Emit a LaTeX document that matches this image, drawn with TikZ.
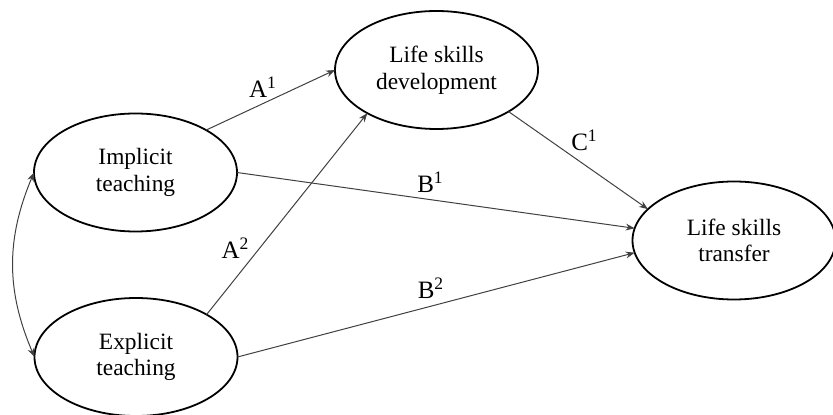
\documentclass[tikz,border=0pt]{standalone}
\usepackage{fontspec}
\setmainfont{Liberation Serif}
\usetikzlibrary{shapes.geometric,arrows.meta}
\begin{document}
\begin{tikzpicture}[x=50pt,y=-50pt,inner sep=0pt,outer sep=0pt,
latent/.style={draw,ellipse,minimum width=101.5pt,minimum height=59pt,line width=0.9pt,align=center,font=\fontsize{11.7}{13.3}\selectfont},
pathway/.style={-{Stealth[length=4.5pt,width=3.4pt]},line width=0.5pt,draw=black!75},
coef/.style={font=\fontsize{12.5}{14}\selectfont}]
\useasboundingbox (0,0) rectangle (8.33,4.15);
\draw (1.355,1.725) node[latent] (imp) {Implicit\\teaching};
\draw (1.36,3.57) node[latent] (exp) {Explicit\\teaching};
\draw (4.365,0.70) node[latent] (dev) {Life skills\\development};
\draw (7.34,2.405) node[latent] (trf) {Life skills\\transfer};
% paths
\draw[pathway] (imp.31.5) -- (dev.180);
\draw[pathway] (exp.31.5) -- (dev.212);
\draw[pathway] (imp.0) -- (trf.173.7);
\draw[pathway] (exp.0) -- (trf.187);
\draw[pathway] (dev.-30) -- (trf.160);
\draw[pathway,{Stealth[length=4.5pt,width=3.4pt]}-{Stealth[length=4.5pt,width=3.4pt]}] (imp.180) to[bend right=23] (exp.180);
% coefficients
\draw (2.63,0.875) node[coef] (a1) {A\textsuperscript{1}};
\draw (2.355,2.485) node[coef] (a2) {A\textsuperscript{2}};
\draw (4.305,1.82) node[coef] (b1) {B\textsuperscript{1}};
\draw (4.31,2.88) node[coef] (b2) {B\textsuperscript{2}};
\draw (5.845,1.40) node[coef] (c1) {C\textsuperscript{1}};
\end{tikzpicture}
\end{document}
